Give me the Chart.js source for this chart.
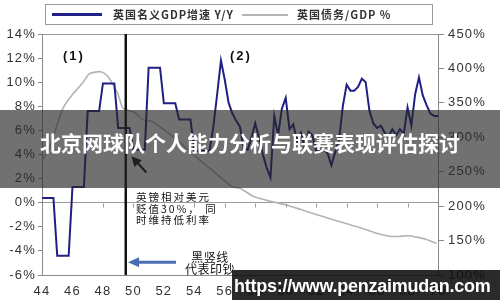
<!DOCTYPE html>
<html>
<head>
<meta charset="utf-8">
<script src="https://cdn.jsdelivr.net/npm/chart.js@4.4.1/dist/chart.umd.min.js"></script>
<style>
body{margin:0;background:#fff;}
#wrap{position:relative;width:500px;height:300px;overflow:hidden;}
#c{position:absolute;left:0;top:0;}
.legend{position:absolute;left:45px;top:4px;width:388px;height:21px;border:1px solid #9a9a9a;box-sizing:border-box;}
.lg-line{position:absolute;}
.lg-text{position:absolute;top:7px;font:bold 11px "Noto Sans CJK SC",sans-serif;color:#333;white-space:nowrap;line-height:14px;letter-spacing:1px;}
.note{position:absolute;font-family:"Noto Sans CJK SC",sans-serif;color:#111;white-space:nowrap;}
.banner{position:absolute;left:0;top:110px;width:500px;height:78px;background:rgba(40,40,40,0.66);}
.banner span{position:absolute;left:40px;top:20px;font:bold 21px/24px "Noto Sans CJK SC",sans-serif;color:#fff;white-space:nowrap;}
.wm{position:absolute;left:232px;top:270px;width:268px;height:30px;background:rgba(12,12,12,0.88);}
.wm span{position:absolute;left:2px;top:4px;font:bold 18px/24px "Liberation Sans",Arial,sans-serif;color:#fff;letter-spacing:-0.25px;white-space:nowrap;}
</style>
</head>
<body>
<div id="wrap">
  <canvas id="c" width="500" height="300"></canvas>
  <div class="legend">
    <div class="lg-line" style="left:6px;top:8px;width:50px;height:2.5px;background:#1f1f85"></div>
    <div class="lg-text" style="left:67px;top:2px">英国名义GDP增速 Y/Y</div>
    <div class="lg-line" style="left:196px;top:9px;width:46px;height:1.5px;background:#b4b4b4"></div>
    <div class="lg-text" style="left:251px;top:2px">英国债务/GDP %</div>
  </div>
  <div class="note" style="left:63px;top:48px;font:bold 13px/16px 'Liberation Sans',Arial,sans-serif;letter-spacing:2px">(1)</div>
  <div class="note" style="left:230px;top:48px;font:bold 13px/16px 'Liberation Sans',Arial,sans-serif;letter-spacing:2px">(2)</div>
  <div class="note" style="left:136px;top:191px;font-size:10.5px;line-height:11.5px;letter-spacing:2px">英镑相对美元<br>贬值30%， 同<br>时维持低利率</div>
  <div class="note" style="left:182px;top:251px;font-size:12px;line-height:12px;letter-spacing:0.5px;text-align:center;width:56px">黑竖线<br>代表印钞</div>
  <div class="banner"><span>北京网球队个人能力分析与联赛表现评估探讨</span></div>
  <div class="wm"><span>https://www.penzaimudan.com</span></div>
</div>
<script>
// 英国名义GDP增速 Y/Y, quarterly from 1944 Q1
const gdpStartYear = 44;
const gdpQuarterly = [
  0.4, 0.4, 0.4, 0.4,      // 44
  -4.4, -4.4, -4.4, -4.4,  // 45
  1.3, 1.3, 1.3, 1.3,      // 46
  7.6, 7.6, 7.6, 7.6,      // 47
  9.9, 9.9, 9.9, 9.9,      // 48
  6.2, 6.2, 6.2, 6.2,      // 49
  4.4, 4.4, 4.4, 4.4,      // 50
  11.2, 11.2, 11.2, 11.2,  // 51
  8.25, 8.25, 8.25, 8.25,  // 52
  6.9, 6.9, 6.9, 6.9,      // 53
  4.3, 4.3, 4.3, 4.3,      // 54
  4.3, 6.3, 9.0, 11.8,     // 55
  10.2, 8.3, 7.4, 6.8,     // 56
  6.3, 4.5, 4.4, 5.4,      // 57
  6.6, 5.4, 4.0, 2.9,      // 58
  2.1, 7.2, 5.6, 7.8,      // 59
  8.7, 6.1, 6.5, 5.1,      // 60
  5.8, 4.5, 5.9, 5.6,      // 61
  4.3, 4.3, 4.4, 4.1,      // 62
  3.1, 4.2, 5.2, 8.0,      // 63
  9.8, 9.3, 9.3, 9.6,      // 64
  10.3, 10.0, 7.6, 6.6,    // 65
  6.2, 6.4, 5.8, 5.5,      // 66
  6.1, 5.6, 6.1, 5.7,      // 67
  7.9, 6.4, 9.0, 10.4,     // 68
  8.9, 8.1, 7.4, 7.2,      // 69
  7.2                      // 70
];

// 英国债务/GDP %
const debtYears  = [44.0, 44.5, 45.0, 45.4, 46.0, 46.7, 47.1, 47.6, 47.9, 48.3, 48.7, 49.0, 49.3, 49.8, 50.1, 50.6, 51.2, 52.2, 53.3, 54.3, 55.4, 56.5, 57.0, 57.9, 59.0, 60.0, 61.0, 62.0, 63.0, 63.9, 65.0, 65.9, 66.9, 67.4, 68.1, 68.6, 69.2, 69.9];
const debtValues = [266, 285, 319, 343, 362, 380, 392, 395, 395, 389, 375, 362, 343, 338, 336, 326, 323, 308, 288, 268, 248, 228, 226, 214, 207, 202, 195, 188, 181, 175, 168, 161, 156, 156, 157, 155, 152, 146];

const printYear = 49.5;           // 黑竖线
const blueArrow = {from:[52.8, -4.95], to:[49.65, -4.95]};
const blackArrow = {from:[50.85, 2.5], to:[49.87, 3.86]};

const gdpPoints = gdpQuarterly.map((v, i) => ({x: gdpStartYear + i * 0.25, y: v}));
const debtPoints = debtYears.map((yr, i) => ({x: yr, y: debtValues[i]}));

function arrow(ctx, x1, y1, x2, y2, color, w, head, half){
  const ang = Math.atan2(y2 - y1, x2 - x1);
  const bx = x2 - Math.cos(ang) * head, by = y2 - Math.sin(ang) * head;
  ctx.strokeStyle = color; ctx.fillStyle = color; ctx.lineWidth = w;
  ctx.beginPath(); ctx.moveTo(x1, y1); ctx.lineTo(bx, by); ctx.stroke();
  ctx.beginPath();
  ctx.moveTo(x2, y2);
  ctx.lineTo(bx + Math.sin(ang) * half, by - Math.cos(ang) * half);
  ctx.lineTo(bx - Math.sin(ang) * half, by + Math.cos(ang) * half);
  ctx.closePath(); ctx.fill();
}

const extras = {
  id: 'extras',
  beforeDraw(chart){
    // the tick labels in the picture are widely spaced
    chart.ctx.letterSpacing = '1.2px';
  },
  afterDatasetsDraw(chart){
    const {ctx, chartArea: a, scales: {x, y}} = chart;
    ctx.save();
    ctx.strokeStyle = '#9a9a9a'; ctx.lineWidth = 1;
    ctx.beginPath(); ctx.moveTo(a.left, a.top + 0.5); ctx.lineTo(a.right, a.top + 0.5); ctx.stroke();
    // small ticks hanging from the 0% line
    const y0 = Math.round(y.getPixelForValue(0)) + 0.5;
    ctx.beginPath();
    x.ticks.forEach(t => {
      if (t.value <= x.min || t.value >= x.max) return;
      const px = Math.round(x.getPixelForValue(t.value)) + 0.5;
      ctx.moveTo(px, y0); ctx.lineTo(px, y0 + 4);
    });
    ctx.stroke();
    // print money line
    const lx = x.getPixelForValue(printYear);
    ctx.strokeStyle = '#111'; ctx.lineWidth = 2.5;
    ctx.beginPath(); ctx.moveTo(lx, a.top); ctx.lineTo(lx, a.bottom); ctx.stroke();
    arrow(ctx, x.getPixelForValue(blueArrow.from[0]), y.getPixelForValue(blueArrow.from[1]),
      x.getPixelForValue(blueArrow.to[0]), y.getPixelForValue(blueArrow.to[1]), '#4a6cb0', 3, 11, 5);
    arrow(ctx, x.getPixelForValue(blackArrow.from[0]), y.getPixelForValue(blackArrow.from[1]),
      x.getPixelForValue(blackArrow.to[0]), y.getPixelForValue(blackArrow.to[1]), '#111', 2.2, 10, 5);
    ctx.restore();
  }
};

const tickFont = {family: '"Liberation Sans", Arial, sans-serif', size: 13};

new Chart(document.getElementById('c'), {
  type: 'line',
  data: {
    datasets: [
      {
        label: '英国名义GDP增速 Y/Y',
        data: gdpPoints,
        yAxisID: 'y',
        borderColor: '#1f1f85',
        borderWidth: 2,
        pointRadius: 0,
        tension: 0
      },
      {
        label: '英国债务/GDP %',
        data: debtPoints,
        yAxisID: 'y1',
        borderColor: '#b4b4b4',
        borderWidth: 1.6,
        pointRadius: 0,
        tension: 0.2
      }
    ]
  },
  options: {
    responsive: false,
    animation: false,
    layout: {padding: {top: 34}},
    plugins: {legend: {display: false}, tooltip: {enabled: false}},
    scales: {
      x: {
        type: 'linear',
        min: 44,
        max: 70,
        grid: {drawOnChartArea: false, drawTicks: false},
        border: {color: '#8a8a8a'},
        ticks: {stepSize: 2, autoSkip: false, maxRotation: 0, padding: 9, color: '#333', font: tickFont,
          callback: v => String(v)},
        afterFit(s){ s.height = 25; }
      },
      y: {
        position: 'left',
        min: -6,
        max: 14,
        grid: {
          color: c => (c.tick && c.tick.value === 0) ? '#9a9a9a' : 'rgba(0,0,0,0)',
          tickColor: '#8a8a8a',
          tickLength: 4
        },
        border: {color: '#8a8a8a'},
        ticks: {stepSize: 2, padding: 2, color: '#333', font: tickFont, callback: v => v + '%'},
        afterFit(s){ s.width = 42; }
      },
      y1: {
        position: 'right',
        min: 100,
        max: 450,
        grid: {drawOnChartArea: false, tickColor: '#8a8a8a', tickLength: 6},
        border: {color: '#8a8a8a'},
        ticks: {stepSize: 50, padding: 4, color: '#333', font: tickFont, callback: v => v + '%'},
        afterFit(s){ s.width = 62; }
      }
    }
  },
  plugins: [extras]
});
</script>
</body>
</html>
